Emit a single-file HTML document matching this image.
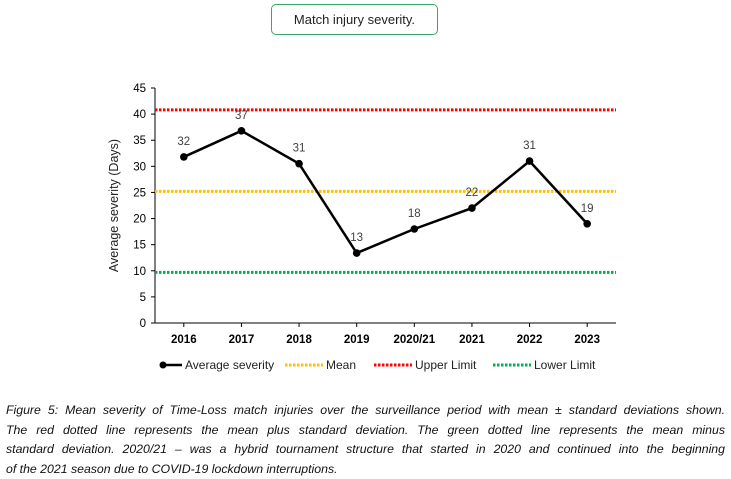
<!DOCTYPE html>
<html><head><meta charset="utf-8"><style>
body{margin:0;width:731px;height:479px;background:#fff;overflow:hidden;font-family:"Liberation Sans",sans-serif;position:relative}
#title{position:absolute;left:271px;top:4px;width:167px;height:31px;border:1.5px solid #3aa66a;border-radius:5px;box-sizing:border-box;text-align:center;line-height:29px;font-size:13px;color:#222}
#cap{position:absolute;left:6px;top:401px;width:719px;font-style:italic;font-size:12.3px;color:#111}
#cap div{height:19.5px;line-height:19.5px;text-align:justify;text-align-last:justify;white-space:nowrap}
#cap div.last{text-align-last:left}
</style></head><body>
<div id="title">Match injury severity.</div>
<svg id="chart" width="731" height="400" style="position:absolute;left:0;top:0"></svg>
<div id="cap">
<div>Figure 5: Mean severity of Time-Loss match injuries over the surveillance period with mean ± standard deviations shown.</div>
<div>The red dotted line represents the mean plus standard deviation. The green dotted line represents the mean minus</div>
<div>standard deviation. 2020/21 – was a hybrid tournament structure that started in 2020 and continued into the beginning</div>
<div class="last">of the 2021 season due to COVID-19 lockdown interruptions.</div>
</div>
<script>
const categories=["2016","2017","2018","2019","2020/21","2021","2022","2023"];
const severity=[31.8,36.8,30.5,13.4,18,22,31,19];
const valueLabels=["32","37","31","13","18","22","31","19"];
const meanVal=[25.2];
const upperVal=[40.8];
const lowerVal=[9.7];
const yTicks=[0,5,10,15,20,25,30,35,40,45];
const NS="http://www.w3.org/2000/svg";
const svg=document.getElementById('chart');
const x0=155,x1=616,yB=323,yT=88;
const step=(x1-x0)/categories.length;
const xs=i=>x0+step*(i+0.5);
const ys=v=>yB-(v/45)*(yB-yT);
function mk(t,a,p){const e=document.createElementNS(NS,t);for(const k in a)e.setAttribute(k,a[k]);(p||svg).appendChild(e);return e;}
let ax=mk('line',{x1:x0,y1:yT,x2:x0,y2:yB,stroke:'#000','stroke-width':1});


let bx=mk('line',{x1:x0,y1:yB,x2:x1,y2:yB,stroke:'#000','stroke-width':1});


yTicks.forEach(v=>{
 mk('line',{x1:x0-4,y1:ys(v),x2:x0,y2:ys(v),stroke:'#000'});
 const t=mk('text',{x:x0-9,y:ys(v)+4,'text-anchor':'end','font-size':11.5,fill:'#000'});t.textContent=v;
 
 
});
categories.forEach((c,i)=>{
 mk('line',{x1:xs(i),y1:yB,x2:xs(i),y2:yB+4,stroke:'#000'});
 const t=mk('text',{x:xs(i),y:yB+20,'text-anchor':'middle','font-size':11.5,'font-weight':'bold',fill:'#000'});t.textContent=c;
 
 
});
const yl=mk('text',{transform:`translate(118,${(yT+yB)/2}) rotate(-90)`,'text-anchor':'middle','font-size':12.5,fill:'#222'});yl.textContent='Average severity (Days)';


function hline(v,col,name){
 const l=mk('line',{x1:x0,y1:ys(v),x2:x1,y2:ys(v),stroke:col,'stroke-width':3,'stroke-dasharray':'2.5 1.5'});
 
 
}
hline(upperVal[0],'#ff0000','upper-limit-line');
hline(meanVal[0],'#ffc000','mean-line');
hline(lowerVal[0],'#00b050','lower-limit-line');
const pl=mk('polyline',{points:severity.map((v,i)=>xs(i)+','+ys(v)).join(' '),fill:'none',stroke:'#000','stroke-width':2.5});


severity.forEach((v,i)=>{
 const c=mk('circle',{cx:xs(i),cy:ys(v),r:3.8,fill:'#000'});
 
 
 const t=mk('text',{x:xs(i),y:ys(v)-12,'text-anchor':'middle','font-size':11.5,fill:'#404040'});t.textContent=valueLabels[i];
 
 
});
const lg=mk('g',{});


const ly=365;
function lent(x,len,col,dash,label,name,dot){
 const g=mk('g',{},lg);
 
 
 mk('line',{x1:x,y1:ly,x2:x+len,y2:ly,stroke:col,'stroke-width':dash?3:2.5,'stroke-dasharray':dash?'2.5 1.5':'none'},g);
 if(dot)mk('circle',{cx:x+3,cy:ly,r:3.5,fill:col},g);
 const t=mk('text',{x:x+len+3,y:ly+4,'font-size':12,fill:'#222'},g);t.textContent=label;
}
lent(160,22,'#000',false,'Average severity','legend-average-severity',true);
lent(285,38,'#ffc000',true,'Mean','legend-mean');
lent(374,38,'#ff0000',true,'Upper Limit','legend-upper-limit');
lent(493,38,'#00b050',true,'Lower Limit','legend-lower-limit');
</script>
</body></html>
